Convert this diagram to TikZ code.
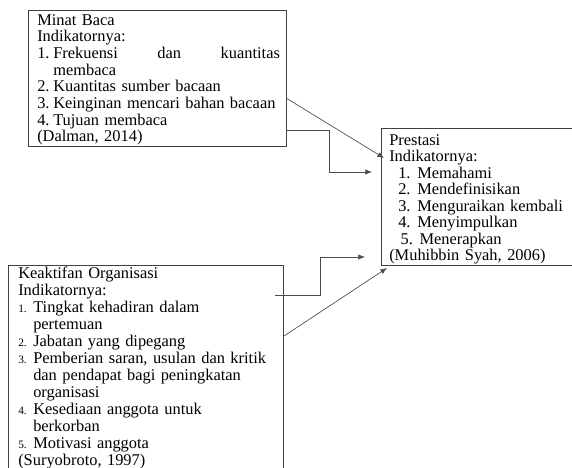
\documentclass[tikz,border=0pt]{standalone}
\usepackage{fontspec}
\setmainfont{Liberation Serif}
\usetikzlibrary{arrows.meta}
\newcommand{\numA}[1]{\makebox[12pt][l]{#1}}
\newcommand{\numB}[1]{\makebox[14.25pt][l]{#1}}
\newcommand{\numC}[1]{\makebox[11.25pt][l]{\fontsize{8.5}{9}\selectfont #1}}
\begin{document}
\begin{tikzpicture}[x=0.75pt,y=-0.75pt,
  box/.style={draw=black!75, line width=0.6pt, rectangle, inner sep=0pt, anchor=north west},
  txt/.style={anchor=north west, inner sep=0pt, align=left, font=\fontsize{12.3}{12.5}\selectfont},
  conn/.style={draw=black!70, line width=0.5pt},
  arr/.style={conn, -{Latex[length=5pt,width=4pt]}}]
\useasboundingbox (0,0) rectangle (572,468);
% boxes
\node[box, minimum width=193.5pt, minimum height=102pt] (b1) at (28,10) {};
\node[box, minimum width=144pt, minimum height=102.75pt] (b2) at (381,128) {};
\node[box, minimum width=206.25pt, minimum height=160pt] (b3) at (8,265) {};
% texts
\node[txt, text width=182pt] (t1) at (37,14) {Minat Baca\\
Indikatornya:\\
\numA{1.}Frekuensi\hfill dan\hfill kuantitas\\
\hspace*{12pt}membaca\\
\numA{2.}Kuantitas sumber bacaan\\
\numA{3.}Keinginan mencari bahan bacaan\\
\numA{4.}Tujuan membaca\\
(Dalman, 2014)};
\node[txt, text width=140pt, font=\fontsize{12.3}{12.4}\selectfont] (t2) at (389,134) {Prestasi\\
Indikatornya:\\
\hspace*{6.75pt}\numB{1.}Memahami\\
\hspace*{6.75pt}\numB{2.}Mendefinisikan\\
\hspace*{6.75pt}\numB{3.}Menguraikan kembali\\
\hspace*{6.75pt}\numB{4.}Menyimpulkan\\
\hspace*{8.5pt}\numB{5.}Menerapkan\\
(Muhibbin Syah, 2006)};
\node[txt, text width=200pt, font=\fontsize{12.3}{12.75}\selectfont] (t3) at (18,267) {Keaktifan Organisasi\\
Indikatornya:\\
\numC{1.}Tingkat kehadiran dalam\\
\hspace*{11.25pt}pertemuan\\
\numC{2.}Jabatan yang dipegang\\
\numC{3.}Pemberian saran, usulan dan kritik\\
\hspace*{11.25pt}dan pendapat bagi peningkatan\\
\hspace*{11.25pt}organisasi\\
\numC{4.}Kesediaan anggota untuk\\
\hspace*{11.25pt}berkorban\\
\numC{5.}Motivasi anggota\\
(Suryobroto, 1997)};
% connector points
\coordinate (a1) at (286,98);
\coordinate (a2) at (384,158);
\coordinate (c1) at (286,130);
\coordinate (c2) at (329,130);
\coordinate (c3) at (329,172);
\coordinate (c4) at (372,172);
\coordinate (d1) at (275,295);
\coordinate (d2) at (320,295);
\coordinate (d3) at (320,257);
\coordinate (d4) at (365,257);
\coordinate (e1) at (284,336);
\coordinate (e2) at (387,268);
\draw[arr] (a1) -- (a2);
\draw[arr] (c1) -- (c2) -- (c3) -- (c4);
\draw[arr] (d1) -- (d2) -- (d3) -- (d4);
\draw[arr] (e1) -- (e2);
\end{tikzpicture}
\end{document}
